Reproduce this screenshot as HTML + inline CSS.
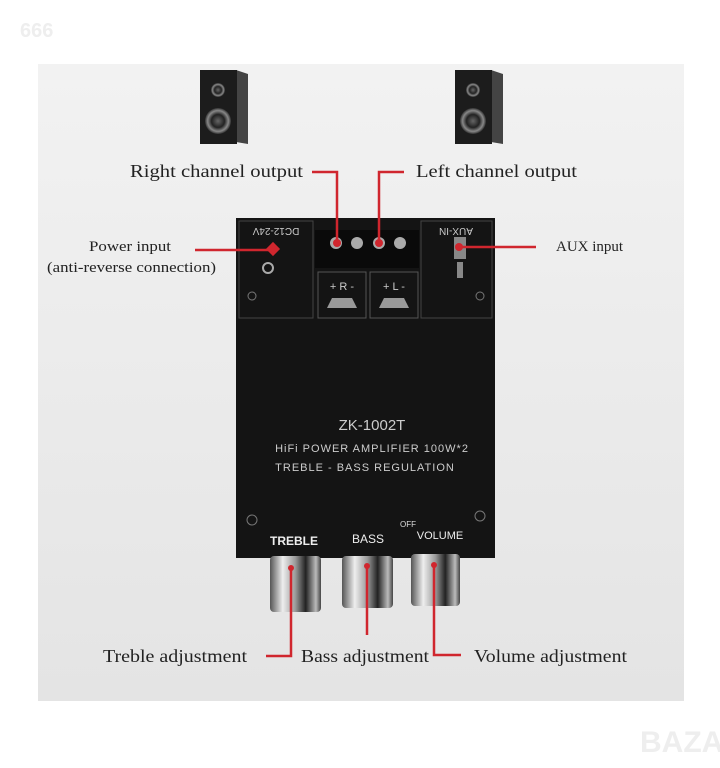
<!DOCTYPE html>
<html><head><style>
html,body{margin:0;padding:0;background:#fff;}
svg{display:block}
</style></head><body>
<svg width="720" height="768" viewBox="0 0 720 768" xmlns="http://www.w3.org/2000/svg">
<defs>
<linearGradient id="bg" x1="0" y1="0" x2="0" y2="1"><stop offset="0" stop-color="#f2f2f2"/><stop offset="1" stop-color="#e4e4e4"/></linearGradient>
<linearGradient id="knob" x1="0" y1="0" x2="1" y2="0"><stop offset="0" stop-color="#555"/><stop offset="0.25" stop-color="#eee"/><stop offset="0.5" stop-color="#999"/><stop offset="0.7" stop-color="#222"/><stop offset="0.9" stop-color="#bbb"/><stop offset="1" stop-color="#444"/></linearGradient>
<radialGradient id="cone"><stop offset="0" stop-color="#666"/><stop offset="0.5" stop-color="#222"/><stop offset="0.8" stop-color="#888"/><stop offset="1" stop-color="#333"/></radialGradient>
</defs>
<text x="20" y="37" font-family="Liberation Sans,sans-serif" font-weight="bold" font-size="20" fill="#eee">666</text>
<rect x="38" y="64" width="646" height="637" fill="url(#bg)"/>
<!-- speakers -->
<g>
<polygon points="236,70 248,74 248,144 236,142" fill="#444"/>
<rect x="200" y="70" width="37" height="74" fill="#1c1c1c"/>
<circle cx="218" cy="90" r="7" fill="url(#cone)"/><circle cx="218" cy="121" r="13" fill="url(#cone)"/>
</g>
<g>
<polygon points="491,70 503,74 503,144 491,142" fill="#444"/>
<rect x="455" y="70" width="37" height="74" fill="#1c1c1c"/>
<circle cx="473" cy="90" r="7" fill="url(#cone)"/><circle cx="473" cy="121" r="13" fill="url(#cone)"/>
</g>
<!-- board -->
<rect x="236" y="218" width="259" height="340" fill="#141414"/>
<rect x="239" y="221" width="74" height="97" fill="none" stroke="#444" stroke-width="1"/>
<rect x="421" y="221" width="71" height="97" fill="none" stroke="#444" stroke-width="1"/>
<rect x="318" y="272" width="48" height="46" fill="none" stroke="#555"/>
<rect x="370" y="272" width="48" height="46" fill="none" stroke="#555"/>
<rect x="315" y="230" width="104" height="38" fill="#0a0a0a"/>
<g fill="#aaa"><circle cx="336" cy="243" r="6"/><circle cx="357" cy="243" r="6"/><circle cx="379" cy="243" r="6"/><circle cx="400" cy="243" r="6"/></g>
<g fill="#999"><polygon points="327,308 357,308 352,298 332,298"/><polygon points="379,308 409,308 404,298 384,298"/></g>
<g font-family="Liberation Sans,sans-serif" fill="#ccc">
<text x="342" y="290" font-size="11" text-anchor="middle">+ R -</text>
<text x="394" y="290" font-size="11" text-anchor="middle">+ L -</text>
<text x="276" y="236" font-size="10" text-anchor="middle" transform="rotate(180 276 232)">DC12-24V</text>
<text x="456" y="236" font-size="10" text-anchor="middle" transform="rotate(180 456 232)">AUX-IN</text>
<text x="372" y="430" font-size="15" text-anchor="middle">ZK-1002T</text>
<text x="372" y="452" font-size="11" text-anchor="middle" letter-spacing="1">HiFi POWER AMPLIFIER 100W*2</text>
<text x="365" y="471" font-size="11" text-anchor="middle" letter-spacing="1">TREBLE - BASS  REGULATION</text>
<text x="294" y="545" font-size="12" font-weight="bold" fill="#eee" text-anchor="middle">TREBLE</text>
<text x="368" y="543" font-size="12" fill="#eee" text-anchor="middle">BASS</text>
<text x="440" y="539" font-size="11" fill="#eee" text-anchor="middle">VOLUME</text>
<text x="400" y="527" font-size="8" fill="#ddd">OFF</text>
</g>
<circle cx="268" cy="268" r="5" fill="none" stroke="#aaa" stroke-width="2"/>
<rect x="454" y="237" width="12" height="22" fill="#888"/><rect x="457" y="262" width="6" height="16" fill="#888"/>
<g fill="none" stroke="#777"><circle cx="252" cy="520" r="5"/><circle cx="480" cy="516" r="5"/><circle cx="252" cy="296" r="4"/><circle cx="480" cy="296" r="4"/></g>
<!-- knobs -->
<rect x="270" y="556" width="51" height="56" rx="4" fill="url(#knob)"/>
<rect x="342" y="556" width="51" height="52" rx="4" fill="url(#knob)"/>
<rect x="411" y="554" width="49" height="52" rx="4" fill="url(#knob)"/>
<!-- red lines -->
<g stroke="#d0262e" stroke-width="2.5" fill="none">
<polyline points="312,172 337,172 337,243"/>
<polyline points="404,172 379,172 379,243"/>
<line x1="195" y1="250" x2="274" y2="250"/>
<line x1="459" y1="247" x2="536" y2="247"/>
<polyline points="291,568 291,656 266,656"/>
<line x1="367" y1="568" x2="367" y2="635"/>
<polyline points="434,565 434,655 461,655"/>
</g>
<g fill="#d0262e"><rect x="268" y="244" width="10" height="10" transform="rotate(45 273 249)"/><circle cx="337" cy="243" r="4"/><circle cx="379" cy="243" r="4"/><circle cx="459" cy="247" r="4"/><circle cx="291" cy="568" r="3"/><circle cx="367" cy="566" r="3"/><circle cx="434" cy="565" r="3"/></g>
<!-- labels -->
<g font-family="Liberation Serif,serif" fill="#222">
<text x="130" y="177" font-size="18" textLength="173" lengthAdjust="spacingAndGlyphs">Right channel output</text>
<text x="416" y="177" font-size="18" textLength="161" lengthAdjust="spacingAndGlyphs">Left channel output</text>
<text x="89" y="251" font-size="15" textLength="82" lengthAdjust="spacingAndGlyphs">Power input</text>
<text x="47" y="272" font-size="15" textLength="169" lengthAdjust="spacingAndGlyphs">(anti-reverse connection)</text>
<text x="556" y="251" font-size="15" textLength="67" lengthAdjust="spacingAndGlyphs">AUX input</text>
<text x="103" y="662" font-size="18" textLength="144" lengthAdjust="spacingAndGlyphs">Treble adjustment</text>
<text x="301" y="662" font-size="18" textLength="128" lengthAdjust="spacingAndGlyphs">Bass adjustment</text>
<text x="474" y="662" font-size="18" textLength="153" lengthAdjust="spacingAndGlyphs">Volume adjustment</text>
</g>
<text x="640" y="752" font-family="Liberation Sans,sans-serif" font-weight="bold" font-size="30" fill="#eee">BAZAR</text>
</svg>
</body></html>
